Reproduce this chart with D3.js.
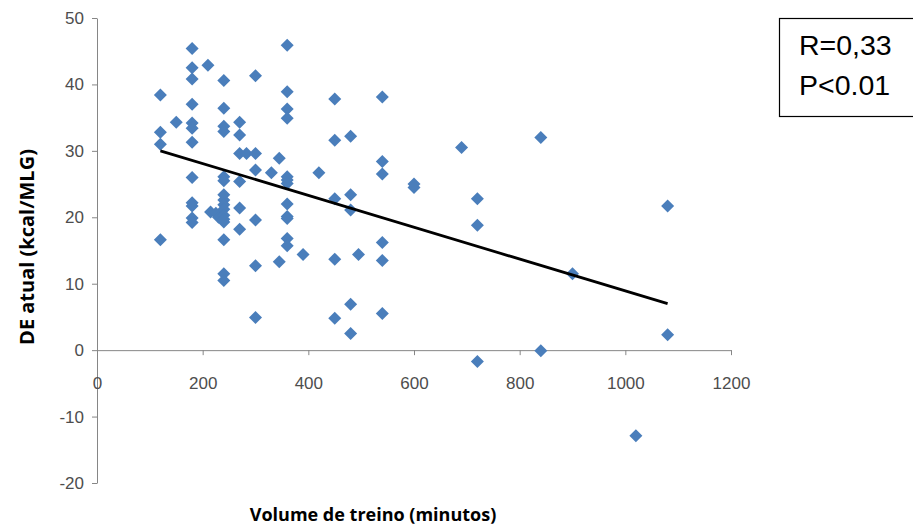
<!DOCTYPE html>
<html>
<head>
<meta charset="utf-8">
<script src="https://cdn.jsdelivr.net/npm/d3@7"></script>
<style>
  body { margin: 0; background: #fff; }
  svg { display: block; }
</style>
</head>
<body>
<div id="Chart"></div>
<script>
// ------------------------------------------------------------------
//	scatter: DE atual vs volume de treino
// ------------------------------------------------------------------
const minutos = [
  120, 120, 120, 120, 150,
  180, 180, 180, 180, 180, 180, 180, 180, 180, 180, 180, 180,
  210, 215, 225, 230,
  240, 240, 240, 240, 240, 240, 240, 240, 240, 240, 240, 240, 240, 240, 240, 240,
  270, 270, 270, 270, 270, 270, 283,
  300, 300, 300, 300, 300, 300,
  330, 345, 345,
  360, 360, 360, 360, 360, 360, 360, 360, 360, 360, 360, 360,
  390, 420,
  450, 450, 450, 450, 450,
  480, 480, 480, 480, 480, 495,
  540, 540, 540, 540, 540, 540,
  600, 600, 690, 720, 720, 720, 840, 840, 900, 1020, 1080, 1080
]
const de_atual = [
  38.4, 32.8, 31.0, 16.6, 34.3,
  45.4, 42.5, 40.8, 37.0, 34.2, 33.4, 31.3, 26.0, 22.2, 21.7, 19.9, 19.2,
  42.9, 20.8, 20.6, 20.0,
  40.6, 36.4, 33.7, 32.9, 26.1, 25.5, 23.4, 22.6, 21.9, 21.2, 20.3, 19.7, 19.3, 16.6, 11.5, 10.5,
  34.3, 32.4, 29.6, 25.4, 21.4, 18.2, 29.6,
  41.3, 29.6, 27.1, 19.6, 12.7, 4.9,
  26.7, 28.9, 13.3,
  45.9, 38.9, 36.3, 34.9, 26.1, 25.6, 25.1, 22.0, 20.1, 19.8, 16.8, 15.7,
  14.4, 26.7,
  37.8, 31.6, 22.8, 13.7, 4.8,
  32.2, 23.4, 21.1, 6.9, 2.5, 14.4,
  38.1, 28.4, 26.5, 16.2, 13.5, 5.5,
  25.0, 24.5, 30.5, 22.8, 18.8, -1.7, 32.0, -0.1, 11.5, -12.9, 21.7, 2.3
]
// linear trend line end points
const trend_x = [120, 1080]
const trend_y = [30.0, 7.0]

const x_ticks = [0, 200, 400, 600, 800, 1000, 1200]
const y_ticks = [-20, -10, 0, 10, 20, 30, 40, 50]
const stats_text = ["R=0,33", "P<0.01"]

const W = 913, H = 528
const axis_color = "#868686"
const label_color = "#4d4d4d"
const point_color = "#4a7ebb"
const tick_font = "Liberation Sans, Arial, sans-serif"

const svg = d3.select("#Chart").append("svg")
    .attr("width", W)
    .attr("height", H)

const x = d3.scaleLinear().domain([0, 1200]).range([97, 731])
const y = d3.scaleLinear().domain([-20, 50]).range([483, 18])

// y axis
const gy = svg.append("g")
    .attr("transform", "translate(" + x(0) + ",0)")
    .call(d3.axisLeft(y).tickValues(y_ticks).tickSize(5).tickPadding(8).tickSizeOuter(0)
          .tickFormat(function(d) { return String(d) }))
gy.select(".domain").attr("stroke", axis_color)
gy.selectAll(".tick line").attr("stroke", axis_color)
gy.selectAll(".tick text")
    .attr("fill", label_color)
    .style("font-family", tick_font)
    .style("font-size", "17px")

// x axis crossing at y = 0
const gx = svg.append("g")
    .attr("transform", "translate(0," + y(0) + ")")
    .call(d3.axisBottom(x).tickValues(x_ticks).tickSize(5).tickPadding(22).tickSizeOuter(0)
          .tickFormat(function(d) { return String(d) }))
gx.select(".domain").attr("stroke", axis_color)
gx.selectAll(".tick line").attr("stroke", axis_color)
gx.selectAll(".tick text")
    .attr("fill", label_color)
    .style("font-family", tick_font)
    .style("font-size", "17px")

// points
const diamond = "M0,-6.5L6.5,0L0,6.5L-6.5,0Z"
svg.append("g").selectAll("path")
    .data(d3.range(minutos.length))
  .enter().append("path")
    .attr("d", diamond)
    .attr("transform", function(i) { return "translate(" + x(minutos[i]) + "," + y(de_atual[i]) + ")" })
    .attr("fill", point_color)

// trend line
svg.append("line")
    .attr("x1", x(trend_x[0])).attr("y1", y(trend_y[0]))
    .attr("x2", x(trend_x[1])).attr("y2", y(trend_y[1]))
    .attr("stroke", "#000")
    .attr("stroke-width", 2.8)

// axis titles
svg.append("text")
    .attr("transform", "translate(34,247) rotate(-90)")
    .attr("text-anchor", "middle")
    .style("font-family", "Open Sans, sans-serif")
    .style("font-weight", "bold")
    .style("font-size", "20px")
    .attr("fill", "#000")
    .text("DE atual (kcal/MLG)")

svg.append("text")
    .attr("x", 373).attr("y", 521)
    .attr("text-anchor", "middle")
    .style("font-family", "Open Sans, sans-serif")
    .style("font-weight", "bold")
    .style("font-size", "18px")
    .attr("fill", "#000")
    .text("Volume de treino (minutos)")

// stats box
svg.append("rect")
    .attr("x", 779.5).attr("y", 18.5)
    .attr("width", 150).attr("height", 98)
    .attr("fill", "#fff")
    .attr("stroke", "#000")
    .attr("stroke-width", 1.2)

svg.append("g").selectAll("text")
    .data(stats_text)
  .enter().append("text")
    .attr("x", 799)
    .attr("y", function(d, i) { return 55 + i * 40 })
    .style("font-family", "Liberation Sans, Arial, sans-serif")
    .style("font-size", "28.5px")
    .attr("fill", "#000")
    .text(function(d) { return d })
</script>
</body>
</html>
